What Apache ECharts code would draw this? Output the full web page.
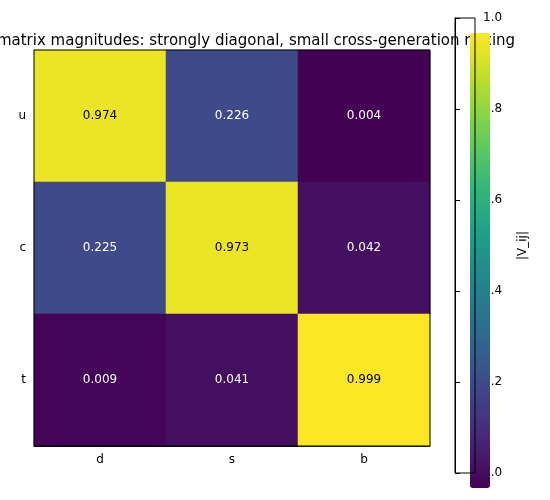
<!DOCTYPE html>
<html><head><meta charset="utf-8">
<script src="https://cdn.jsdelivr.net/npm/echarts@6/dist/echarts.min.js"></script>
<style>html,body{margin:0;padding:0;background:#fff}#c{width:550px;height:500px}</style>
</head><body><div id="c"></div>
<script>
const columns = ["d", "s", "b"];
const rows = ["u", "c", "t"];
const values = [
  [0.974, 0.226, 0.004],
  [0.225, 0.973, 0.042],
  [0.009, 0.041, 0.999],
];
const cbTicks = [0, 0.2, 0.4, 0.6, 0.8, 1.0];

const viridis = ["#440154", "#482878", "#3e4989", "#31688e", "#26828e",
  "#1f9e89", "#35b779", "#6ece58", "#b5de2b", "#fde725"];

const cells = [];
rows.forEach((r, i) => columns.forEach((c, j) => cells.push([j, i, values[i][j]])));

const chart = echarts.init(document.getElementById("c"));
chart.setOption({
  animation: false,
  textStyle: { fontFamily: "DejaVu Sans" },
  title: {
    text: "CKM matrix magnitudes: strongly diagonal, small cross-generation mixing",
    left: 232, top: 29, textAlign: "center", z: 0,
    textStyle: { fontSize: 15, fontWeight: "normal", color: "#000" },
  },
  grid: [
    { left: 34, top: 50, width: 396, height: 396, z: 3 },
    { left: 455, top: 18, width: 20, height: 455, z: 3 },
  ],
  xAxis: [
    { gridIndex: 0, type: "category", data: columns, position: "bottom",
      axisLine: { lineStyle: { color: "#000" } }, axisTick: { alignWithLabel: true, lineStyle: { color: "#000" } },
      axisLabel: { color: "#000", fontSize: 12, margin: 8 }, splitArea: { show: false } },
    { gridIndex: 1, type: "value", min: 0, max: 1, show: false },
  ],
  yAxis: [
    { gridIndex: 0, type: "category", data: rows, inverse: true,
      axisLine: { lineStyle: { color: "#000" } }, axisTick: { alignWithLabel: true, lineStyle: { color: "#000" } },
      axisLabel: { color: "#000", fontSize: 12, margin: 8 } },
    { gridIndex: 1, type: "value", min: 0, max: 1, interval: 0.2, position: "right",
      name: "|V_ij|", nameLocation: "middle", nameGap: 42, nameRotate: 90,
      nameTextStyle: { color: "#000", fontSize: 12 },
      axisLine: { show: true, lineStyle: { color: "#000" } },
      axisTick: { show: true, lineStyle: { color: "#000" } },
      axisLabel: { color: "#000", fontSize: 12, formatter: v => v.toFixed(1) },
      splitLine: { show: false } },
  ],
  visualMap: {
    type: "continuous", min: 0, max: 1, calculable: false, seriesIndex: 0,
    orient: "vertical", left: 455, top: 18, itemWidth: 20, itemHeight: 455,
    text: ["", ""], showLabel: false, z: 10,
    inRange: { color: viridis },
  },
  series: [
    { type: "heatmap", xAxisIndex: 0, yAxisIndex: 0, data: cells, z: 3,
      label: { show: true, fontSize: 12,
        formatter: p => p.value[2].toFixed(3),
        rich: {} },
      itemStyle: { borderWidth: 0 } },
    { type: "line", xAxisIndex: 1, yAxisIndex: 1, data: [], silent: true },
  ],
  graphic: [
    { type: "rect", shape: { x: 455, y: 18, width: 20, height: 455 }, z: 20,
      style: { fill: "none", stroke: "#000", lineWidth: 1 } },
    { type: "rect", shape: { x: 34, y: 50, width: 396, height: 396 }, z: 20,
      style: { fill: "none", stroke: "#000", lineWidth: 1 } },
  ],
});
// label colours: dark text on light cells
chart.setOption({
  series: [{ data: cells.map(c => ({ value: c,
    label: { color: c[2] > 0.5 ? "#000" : "#fff" } })) }],
});
</script></body></html>
